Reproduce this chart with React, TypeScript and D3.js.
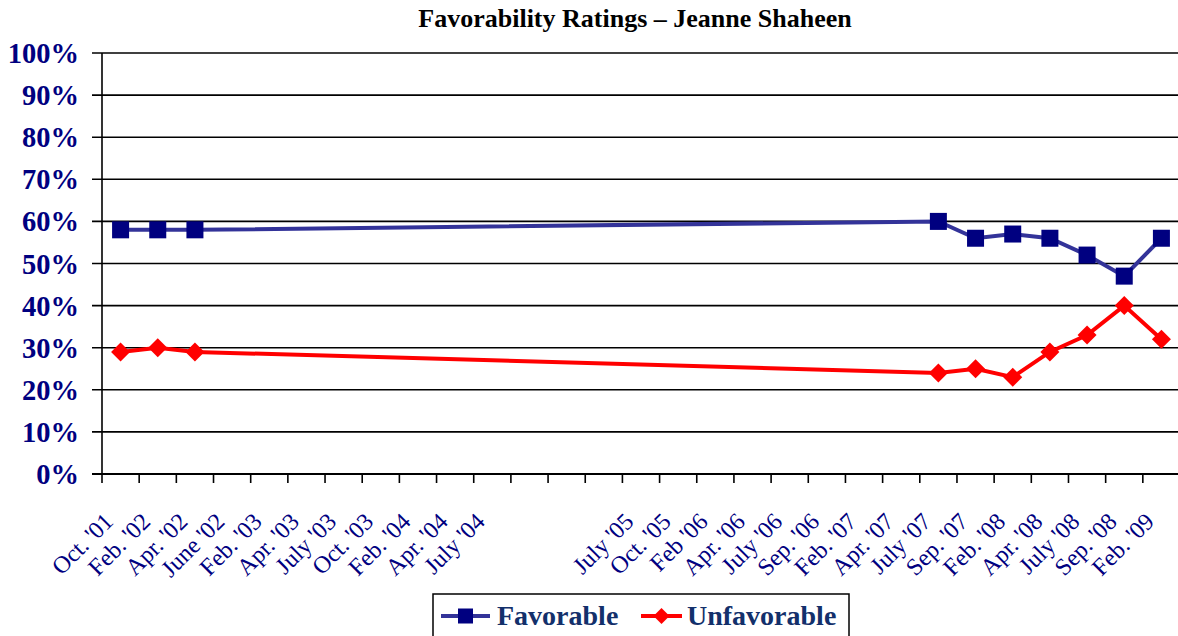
import { useEffect, useRef } from "react";
import * as d3 from "d3";

// 29 category slots; three slots between July '04 and July '05 are blank
const categories = [
  "Oct. '01", "Feb. '02", "Apr. '02", "June '02", "Feb. '03", "Apr. '03",
  "July '03", "Oct. '03", "Feb. '04", "Apr. '04", "July '04", "", "", "",
  "July '05", "Oct. '05", "Feb '06", "Apr. '06", "July '06", "Sep. '06",
  "Feb. '07", "Apr. '07", "July '07", "Sep. '07", "Feb. '08", "Apr. '08",
  "July '08", "Sep. '08", "Feb. '09",
];

// null = no poll in that slot
const favorable: (number | null)[] = [
  58, 58, 58, null, null, null, null, null, null, null, null, null, null, null,
  null, null, null, null, null, null, null, null, 60, 56, 57, 56, 52, 47, 56,
];
const unfavorable: (number | null)[] = [
  29, 30, 29, null, null, null, null, null, null, null, null, null, null, null,
  null, null, null, null, null, null, null, null, 24, 25, 23, 29, 33, 40, 32,
];

const yTicks = [0, 10, 20, 30, 40, 50, 60, 70, 80, 90, 100];

const W = 1178;
const H = 636;
const NAVY = "#000080";
const SERIF = "'Liberation Serif', 'Times New Roman', serif";

export default function App() {
  const svgRef = useRef<SVGSVGElement>(null);

  useEffect(() => {
    if (!svgRef.current) return;
    const svg = d3.select(svgRef.current);
    svg.selectAll("*").remove();

    const left = 102, right = 1180, top = 53, bottom = 474;
    const keys = categories.map((_, i) => String(i));
    const x = d3.scaleBand<string>().domain(keys).range([left, right]);
    const cx = (i: number) => (x(String(i)) as number) + x.bandwidth() / 2;
    const y = d3.scaleLinear().domain([0, 100]).range([bottom, top]);

    // title
    svg.append("text")
      .attr("x", 635).attr("y", 27)
      .attr("text-anchor", "middle")
      .attr("font-family", SERIF)
      .attr("font-weight", "bold").attr("font-size", 26)
      .attr("fill", "#000")
      .text("Favorability Ratings \u2013 Jeanne Shaheen");

    // gridlines + y ticks
    const grid = svg.append("g");
    yTicks.forEach((t) => {
      grid.append("line")
        .attr("x1", left - 10).attr("x2", right)
        .attr("y1", y(t)).attr("y2", y(t))
        .attr("stroke", "#000").attr("stroke-width", t === 0 ? 2 : 1.6);
      grid.append("text")
        .attr("x", 79).attr("y", y(t) + 10)
        .attr("text-anchor", "end")
        .attr("font-family", SERIF)
        .attr("font-weight", "bold").attr("font-size", 28.5)
        .attr("fill", NAVY)
        .text(`${t}%`);
    });
    grid.append("line")
      .attr("x1", left).attr("x2", left)
      .attr("y1", top).attr("y2", bottom)
      .attr("stroke", "#000").attr("stroke-width", 1.6);

    // x ticks at band boundaries
    const xt = svg.append("g");
    keys.forEach((k) => {
      const bx = x(k) as number;
      xt.append("line")
        .attr("x1", bx).attr("x2", bx)
        .attr("y1", bottom).attr("y2", bottom + 9)
        .attr("stroke", "#000").attr("stroke-width", 1.6);
    });
    categories.forEach((c, i) => {
      if (!c) return;
      const ax = cx(i) - 6, ay = 523;
      xt.append("text")
        .attr("transform", `translate(${ax},${ay}) rotate(-45)`)
        .attr("text-anchor", "end")
        .attr("font-family", SERIF)
        .attr("font-size", 24)
        .attr("fill", NAVY)
        .text(c);
    });

    // series
    const line = d3.line<[number, number]>().x((d) => d[0]).y((d) => d[1]);
    const pts = (arr: (number | null)[]) =>
      arr.map((v, i) => (v == null ? null : [cx(i), y(v)] as [number, number]))
        .filter((p): p is [number, number] => p !== null);

    const favPts = pts(favorable);
    const unfPts = pts(unfavorable);

    svg.append("path").attr("d", line(favPts) as string)
      .attr("fill", "none").attr("stroke", "#333399").attr("stroke-width", 4);
    svg.selectAll(".fav").data(favPts).join("rect")
      .attr("x", (d) => d[0] - 8.5).attr("y", (d) => d[1] - 8.5)
      .attr("width", 17).attr("height", 17).attr("fill", NAVY);

    svg.append("path").attr("d", line(unfPts) as string)
      .attr("fill", "none").attr("stroke", "#ff0000").attr("stroke-width", 4);
    const diamond = (px: number, py: number, r: number) =>
      `M${px},${py - r}L${px + r},${py}L${px},${py + r}L${px - r},${py}Z`;
    svg.selectAll(".unf").data(unfPts).join("path")
      .attr("d", (d) => diamond(d[0], d[1], 9.5))
      .attr("fill", "#ff0000");

    // legend
    const lg = svg.append("g");
    lg.append("rect")
      .attr("x", 433).attr("y", 594).attr("width", 416).attr("height", 50)
      .attr("fill", "#fff").attr("stroke", "#000").attr("stroke-width", 1.5);
    const ly = 616;
    lg.append("line").attr("x1", 441).attr("x2", 490).attr("y1", ly).attr("y2", ly)
      .attr("stroke", "#333399").attr("stroke-width", 4);
    lg.append("rect").attr("x", 458).attr("y", ly - 7.5).attr("width", 15).attr("height", 15)
      .attr("fill", NAVY);
    lg.append("line").attr("x1", 641).attr("x2", 682).attr("y1", ly).attr("y2", ly)
      .attr("stroke", "#ff0000").attr("stroke-width", 4);
    lg.append("path").attr("d", diamond(661.5, ly, 8)).attr("fill", "#ff0000");
    const legText = (tx: number, s: string) =>
      lg.append("text").attr("x", tx).attr("y", ly + 9)
        .attr("font-family", SERIF)
        .attr("font-weight", "bold").attr("font-size", 28)
        .attr("fill", "#13306b")
        .text(s);
    legText(497, "Favorable");
    legText(687, "Unfavorable");
  }, []);

  return (
    <svg
      ref={svgRef}
      width={W}
      height={H}
      style={{ position: "absolute", left: 0, top: 0, background: "#fff" }}
    />
  );
}
